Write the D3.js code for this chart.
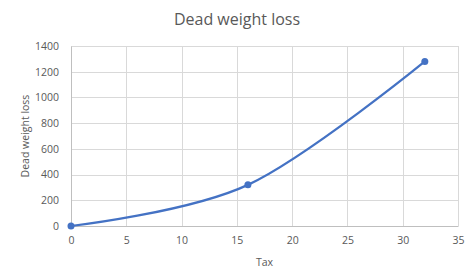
<!DOCTYPE html>
<html>
<head>
<meta charset="utf-8">
<script src="https://cdnjs.cloudflare.com/ajax/libs/d3/7.8.5/d3.min.js"></script>
<style>
  body { margin: 0; background: #fff; }
  svg text { font-family: "Open Sans", "Liberation Sans", sans-serif; fill: #595959; }
</style>
</head>
<body>
<div id="chart"></div>
<script>
// data points
var taxValues = [0, 16, 32];
var lossValues = [0, 320, 1280];
var xTicks = [0, 5, 10, 15, 20, 25, 30, 35];
var yTicks = [0, 200, 400, 600, 800, 1000, 1200, 1400];

var svgWidth = 475, svgHeight = 274;
var margin = { top: 46, right: 17, bottom: 48, left: 71 };
var chartWidth = svgWidth - margin.left - margin.right;
var chartHeight = svgHeight - margin.top - margin.bottom;

var svg = d3.select("#chart").append("svg")
  .attr("width", svgWidth)
  .attr("height", svgHeight);

var chartGroup = svg.append("g")
  .attr("transform", `translate(${margin.left}, ${margin.top})`);

var xScale = d3.scaleLinear().domain([0, 35]).range([0, chartWidth]);
var yScale = d3.scaleLinear().domain([0, 1400]).range([chartHeight, 0]);

// gridlines
chartGroup.selectAll(".vgrid").data(xTicks).enter().append("line")
  .attr("x1", d => Math.round(xScale(d)) + 0.5)
  .attr("x2", d => Math.round(xScale(d)) + 0.5)
  .attr("y1", 0).attr("y2", chartHeight)
  .attr("stroke", "#d9d9d9");
chartGroup.selectAll(".hgrid").data(yTicks).enter().append("line")
  .attr("x1", 0).attr("x2", chartWidth)
  .attr("y1", d => Math.round(yScale(d)) + 0.5)
  .attr("y2", d => Math.round(yScale(d)) + 0.5)
  .attr("stroke", "#d9d9d9");

// axes
var bottomAxis = d3.axisBottom(xScale).tickValues(xTicks).tickFormat(d3.format("d")).tickSize(0).tickPadding(11);
var leftAxis = d3.axisLeft(yScale).tickValues(yTicks).tickFormat(d3.format("d")).tickSize(0).tickPadding(12);

var xAxis = chartGroup.append("g")
  .attr("transform", `translate(0, ${chartHeight})`)
  .call(bottomAxis);
var yAxis = chartGroup.append("g").call(leftAxis);

[xAxis, yAxis].forEach(function(ax) {
  ax.select(".domain").attr("stroke", "#bfbfbf");
  ax.selectAll("text").style("font-size", "10.5px").attr("fill", "#595959");
});

// smooth line
var line = d3.line()
  .x(d => xScale(d[0]))
  .y(d => yScale(d[1]))
  .curve(d3.curveCatmullRom.alpha(0));

var points = taxValues.map((t, i) => [t, lossValues[i]]);

chartGroup.append("path")
  .datum(points)
  .attr("d", line)
  .attr("fill", "none")
  .attr("stroke", "#4472c4")
  .attr("stroke-width", 2.25);

chartGroup.selectAll(".dot").data(points).enter().append("circle")
  .attr("cx", d => xScale(d[0]))
  .attr("cy", d => yScale(d[1]))
  .attr("r", 3.5)
  .attr("fill", "#4472c4");

// title and axis labels
svg.append("text")
  .attr("x", 237).attr("y", 25)
  .attr("text-anchor", "middle")
  .style("font-size", "16px")
  .text("Dead weight loss");

svg.append("text")
  .attr("x", margin.left + chartWidth / 2).attr("y", 266)
  .attr("text-anchor", "middle")
  .style("font-size", "10.5px")
  .text("Tax");

svg.append("text")
  .attr("transform", `translate(29, ${margin.top + chartHeight / 2}) rotate(-90)`)
  .attr("text-anchor", "middle")
  .style("font-size", "10.5px")
  .text("Dead weight loss");
</script>
</body>
</html>
